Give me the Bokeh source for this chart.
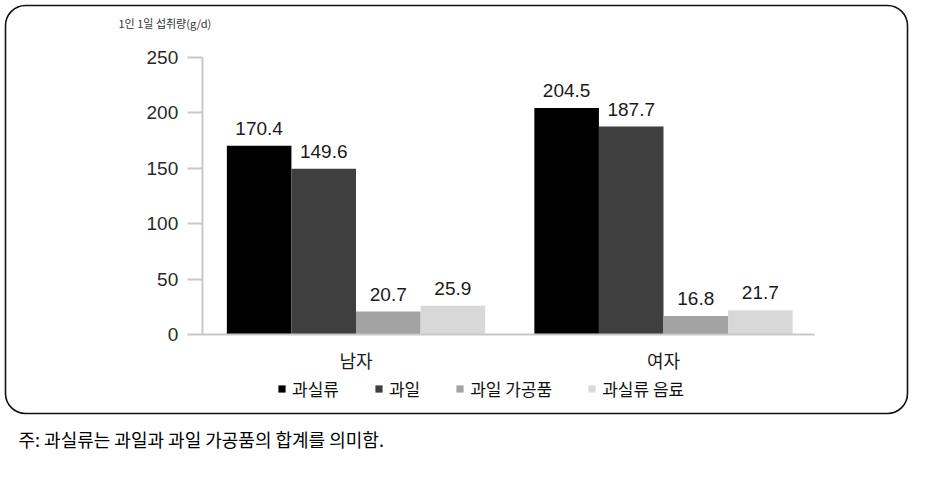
from bokeh.plotting import figure
from bokeh.models import (ColumnDataSource, LabelSet, Label, Legend, LegendItem, LinearAxis,
                          FixedTicker, Range1d, BoxAnnotation)
from bokeh.core.properties import value
from bokeh.embed import file_html
from bokeh.resources import INLINE

# ---- data ----
groups = ["남자", "여자"]
series_names = ["과실류", "과일", "과일 가공품", "과실류 음료"]
fruits_total = [170.4, 204.5]
fruit = [149.6, 187.7]
processed = [20.7, 16.8]
beverage = [25.9, 21.7]
y_ticks = [0, 50, 100, 150, 200, 250]
unit_label = "1인 1일 섭취량(g/d)"
note_text = "주: 과실류는 과일과 과일 가공품의 합계를 의미함."

# ---- style / layout ----
W, H = 934, 479
colors = ["#000000", "#3f3f3f", "#a3a3a3", "#d8d8d8"]
offsets = [-0.315, -0.105, 0.105, 0.315]
bar_width = 0.21
series_values = [fruits_total, fruit, processed, beverage]
NUM_FONT = "Liberation Sans, Noto Sans CJK KR"
KR_FONT = "Noto Sans CJK KR"

# pixel placement of the plotting area within the canvas
G1_PX, G_STEP_PX = 355.5, 307.5          # first group centre, px per group
ZERO_PX, TOP_PX = 334.0, 57.0            # y of value 0 and of top tick
y_max = y_ticks[-1]
px_per_unit = (ZERO_PX - TOP_PX) / y_max

x_range = Range1d(1 - G1_PX / G_STEP_PX, 1 + (W - G1_PX) / G_STEP_PX)
y_range = Range1d(-(H - ZERO_PX) / px_per_unit, y_max + TOP_PX / px_per_unit)

group_pos = [i + 1 for i in range(len(groups))]
data = {"pos": group_pos}
for i, vals in enumerate(series_values):
    data[f"x{i}"] = [g + offsets[i] for g in group_pos]
    data[f"s{i}"] = vals
    data[f"l{i}"] = [f"{v:.1f}" for v in vals]
src = ColumnDataSource(data)

p = figure(width=W, height=H, x_range=x_range, y_range=y_range,
           output_backend="svg", toolbar_location=None,
           x_axis_type=None, y_axis_type=None, min_border=0)
p.outline_line_color = None
p.background_fill_color = "white"
p.border_fill_color = "white"

# rounded frame around the chart
p.add_layout(BoxAnnotation(left=5, right=907, top=H - 5, bottom=H - 413,
                           left_units="screen", right_units="screen", top_units="screen",
                           bottom_units="screen", fill_alpha=0, line_color="#111111",
                           line_alpha=1.0, line_width=1.6, border_radius=20))

renderers = []
for i in range(4):
    r = p.vbar(x=f"x{i}", top=f"s{i}", width=bar_width, source=src,
               fill_color=colors[i], line_color=None)
    renderers.append(r)
    p.add_layout(LabelSet(x=f"x{i}", y=f"s{i}", text=f"l{i}", source=src,
                          text_align="center", text_baseline="alphabetic", y_offset=11,
                          text_font_size="19px", text_color="#1a1a1a",
                          text_font=value(NUM_FONT)))

# axes
x_lo, x_hi = group_pos[0] - 0.5, group_pos[-1] + 0.5
yaxis = LinearAxis(fixed_location=x_lo, bounds=(0, y_max),
                   ticker=FixedTicker(ticks=y_ticks),
                   minor_tick_line_color=None, major_tick_in=0, major_tick_out=15,
                   major_tick_line_color="#c8c8c8", major_tick_line_width=2,
                   axis_line_color="#c8c8c8", axis_line_width=2,
                   major_label_text_font_size="19px", major_label_text_font=NUM_FONT,
                   major_label_text_color="#2a2a2a", major_label_standoff=9)
p.add_layout(yaxis, "left")

xaxis = LinearAxis(fixed_location=0, bounds=(x_lo, x_hi - 0.01),
                   ticker=FixedTicker(ticks=group_pos),
                   major_label_overrides={g: name for g, name in zip(group_pos, groups)},
                   minor_tick_line_color=None, major_tick_line_color=None,
                   major_tick_in=0, major_tick_out=0,
                   axis_line_color="#c8c8c8", axis_line_width=2,
                   major_label_text_font_size="18px", major_label_text_font=KR_FONT,
                   major_label_text_color="#1a1a1a", major_label_standoff=12)
p.add_layout(xaxis, "below")

# legend
items = [LegendItem(label=series_names[i], renderers=[renderers[i]]) for i in range(4)]
legend = Legend(items=items, orientation="horizontal", location=(277, H - 401),
                padding=0, margin=0, spacing=35, glyph_width=9, glyph_height=9,
                label_standoff=6, label_text_font_size="17px", label_text_font=KR_FONT,
                label_text_color="#111111", border_line_color=None,
                background_fill_alpha=0, label_height=20)
p.add_layout(legend)

p.add_layout(Label(x=118, y=H - 22, x_units="screen", y_units="screen",
                   text=unit_label, text_font_size="11px", text_font=KR_FONT,
                   text_color="#333333", text_baseline="middle"))
p.add_layout(Label(x=18, y=H - 438, x_units="screen", y_units="screen",
                   text=note_text, text_font_size="18px", text_font=KR_FONT,
                   text_color="#000000", text_baseline="middle"))

open("out.html", "w").write(file_html(p, INLINE))
